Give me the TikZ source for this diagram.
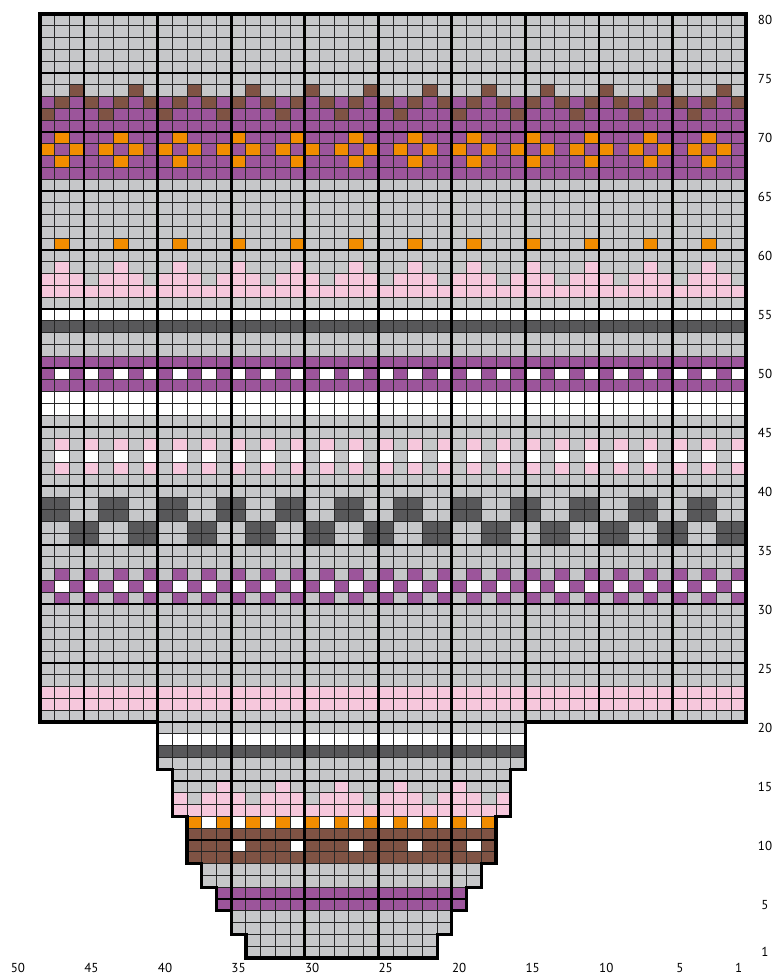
\documentclass[tikz,border=0pt]{standalone}
\usepackage{fontspec}
\setmainfont{PT Sans}
\definecolor{cgrey}{RGB}{198,199,201}
\definecolor{cpurple}{RGB}{156,85,155}
\definecolor{cbrown}{RGB}{127,83,68}
\definecolor{corange}{RGB}{242,141,0}
\definecolor{cpink}{RGB}{246,199,220}
\definecolor{cdark}{RGB}{88,88,90}
\newcommand\cellw{14.7083}
\newcommand\cellh{11.8}
% band: cols c1..c2 (c1<=c2), rows r1..r2 (r1<=r2)
\newcommand\band[5]{\fill[#5] ({746-(#2)*\cellw},{958-(#4)*\cellh}) rectangle ({746-(#1-1)*\cellw},{958-(#3-1)*\cellh});}
\newcommand\cellc[3]{\band{#1}{#1}{#2}{#2}{#3}}
\newcommand\spots[5]{\foreach \c in {#1,#2,...,#3}{\cellc{\c}{#4}{#5}}}
\newcommand\gridblock[4]{%
  \pgfmathtruncatemacro\gca{#1-1}%
  \pgfmathtruncatemacro\gra{#3-1}%
  \foreach \k in {\gca,...,#2}{\draw[thinline] ({746-\k*\cellw},{958-(#4)*\cellh}) -- ({746-\k*\cellw},{958-\gra*\cellh});}%
  \foreach \k in {\gra,...,#4}{\draw[thinline] ({746-(#2)*\cellw},{958-\k*\cellh}) -- ({746-\gca*\cellw},{958-\k*\cellh});}%
}
\tikzset{
  thinline/.style={draw=black!85,line width=0.9pt},
  thickline/.style={draw=black,line width=2.7pt},
  outline/.style={draw=black,line width=3.2pt,line join=miter},
  lbl/.style={inner sep=0pt,font=\fontsize{13}{15}\selectfont}
}
\begin{document}
\begin{tikzpicture}[x=1pt,y=-1pt]
\useasboundingbox (0,0) rectangle (779,977);
\fill[white] (0,0) rectangle (779,977);
% ---- top block rows 21-80, cols 1-48
\band{1}{48}{74}{80}{cgrey}
\spots{2}{6}{46}{74}{cbrown}
\band{1}{48}{67}{73}{cpurple}
\spots{1}{3}{47}{73}{cbrown}
\spots{4}{8}{48}{72}{cbrown}
\spots{3}{7}{47}{70}{corange}
\spots{2}{4}{48}{69}{corange}
\spots{3}{7}{47}{68}{corange}
\band{1}{48}{59}{66}{cgrey}
\spots{3}{7}{47}{61}{corange}
\spots{3}{7}{47}{59}{cpink}
\band{1}{48}{57}{58}{cpink}
\spots{1}{5}{45}{58}{cgrey}
\band{1}{48}{56}{56}{cgrey}
\band{1}{48}{55}{55}{white}
\band{1}{48}{54}{54}{cdark}
\band{1}{48}{52}{53}{cgrey}
\band{1}{48}{49}{51}{cpurple}
\spots{1}{3}{47}{50}{white}
\band{1}{48}{47}{48}{white}
\band{1}{48}{21}{46}{cgrey}
\spots{1}{3}{47}{44}{cpink}
\spots{1}{3}{47}{43}{white}
\spots{1}{3}{47}{42}{cpink}
\foreach \c in {3,7,...,47}{\band{\c}{\c+1}{38}{39}{cdark}}
\foreach \c in {1,5,...,45}{\band{\c}{\c+1}{36}{37}{cdark}}
\spots{1}{3}{47}{33}{cpurple}
\band{1}{48}{32}{32}{cpurple}
\spots{1}{3}{47}{32}{white}
\spots{1}{3}{47}{31}{cpurple}
\band{1}{48}{22}{23}{cpink}
% ---- narrow part
\band{16}{40}{20}{20}{cgrey}
\band{16}{40}{19}{19}{white}
\band{16}{40}{18}{18}{cdark}
\band{16}{40}{17}{17}{cgrey}
\band{17}{39}{15}{16}{cgrey}
\spots{20}{24}{36}{15}{cpink}
\band{17}{39}{13}{14}{cpink}
\spots{18}{22}{38}{14}{cgrey}
\band{18}{38}{12}{12}{white}
\spots{18}{20}{38}{12}{corange}
\band{18}{38}{9}{11}{cbrown}
\spots{19}{23}{35}{10}{white}
\band{19}{37}{7}{8}{cgrey}
\band{20}{36}{5}{6}{cpurple}
\band{21}{35}{3}{4}{cgrey}
\band{22}{34}{1}{2}{cgrey}
% ---- thin grid
\gridblock{1}{48}{21}{80}
\gridblock{16}{40}{17}{20}
\gridblock{17}{39}{13}{16}
\gridblock{18}{38}{9}{12}
\gridblock{19}{37}{7}{8}
\gridblock{20}{36}{5}{6}
\gridblock{21}{35}{3}{4}
\gridblock{22}{34}{1}{2}
% ---- thick grid lines
\foreach \k in {5,10,...,45}{\draw[thickline] ({746-\k*\cellw},14) -- ({746-\k*\cellw},722);}
\foreach \m in {20,25,...,75}{\draw[thickline] (40,{958-\m*\cellh}) -- (746,{958-\m*\cellh});}
\foreach \k in {25,30}{\draw[thickline] ({746-\k*\cellw},722) -- ({746-\k*\cellw},958);}
\foreach \k in {20,35}{\draw[thickline] ({746-\k*\cellw},722) -- ({746-\k*\cellw},910.8);}
\draw[thickline] (172.375,{958-15*\cellh}) -- (510.667,{958-15*\cellh});
\draw[thickline] (187.083,{958-10*\cellh}) -- (495.958,{958-10*\cellh});
\draw[thickline] (216.5,{958-5*\cellh}) -- (466.542,{958-5*\cellh});
% ---- outline
\draw[outline] (40,14) -- (746,14) -- (746,722) -- (525.375,722) -- (525.375,769.2)
  -- (510.667,769.2) -- (510.667,816.4) -- (495.958,816.4) -- (495.958,863.6)
  -- (481.25,863.6) -- (481.25,887.2) -- (466.542,887.2) -- (466.542,910.8)
  -- (451.833,910.8) -- (451.833,934.4) -- (437.125,934.4) -- (437.125,958)
  -- (245.917,958) -- (245.917,934.4) -- (231.208,934.4) -- (231.208,910.8)
  -- (216.5,910.8) -- (216.5,887.2) -- (201.792,887.2) -- (201.792,863.6)
  -- (187.083,863.6) -- (187.083,816.4) -- (172.375,816.4) -- (172.375,769.2)
  -- (157.667,769.2) -- (157.667,722) -- (40,722) -- cycle;
% ---- labels
\foreach \r in {80,75,...,5}{\node[lbl] (row\r) at (765,{958-(\r-0.5)*\cellh}) {\r};}
\node[lbl] (row1) at (765,952.1) {1};
\foreach \c in {50,45,...,5}{\node[lbl] (col\c) at ({746-(\c-0.5)*\cellw},968) {\c};}
\node[lbl] (col1) at (738.6,968) {1};
\end{tikzpicture}
\end{document}
